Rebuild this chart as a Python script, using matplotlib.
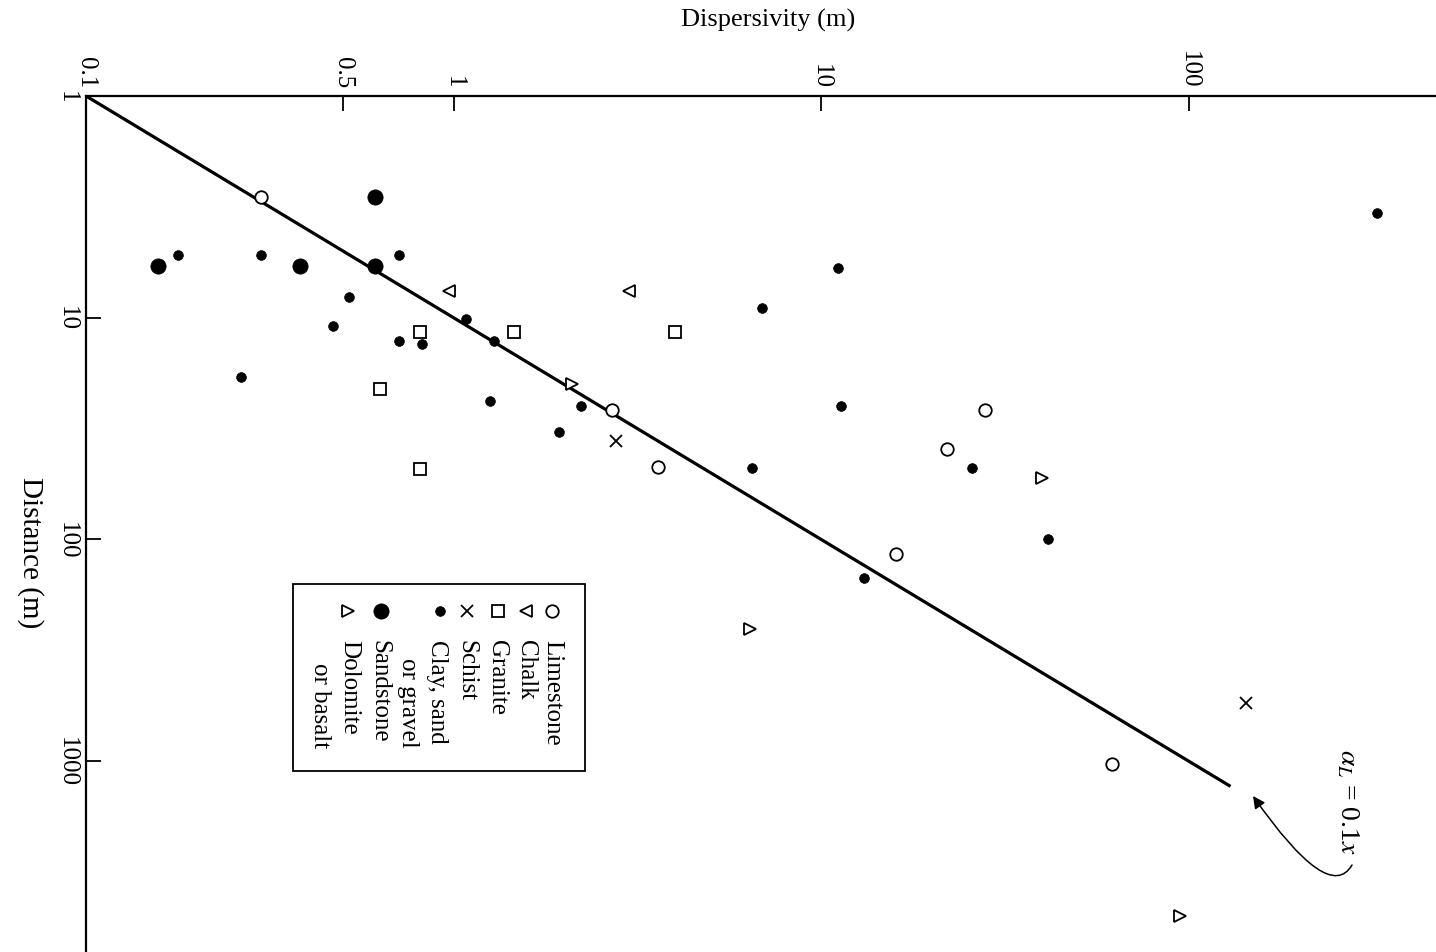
import matplotlib
matplotlib.use("Agg")
import matplotlib.pyplot as plt
from matplotlib.lines import Line2D
from matplotlib.patches import Rectangle

# ---------------- data (dispersivity in m, distance in m) ----------------
limestone_disp = [0.30, 2.7, 3.6, 28, 22, 16, 62]
limestone_dist = [2.85, 26, 47, 26, 39, 116, 1030]

chalk_disp = [0.97, 3.0]
chalk_dist = [7.6, 7.6]

granite_disp = [0.81, 1.46, 4.0, 0.63, 0.81]
granite_dist = [11.6, 11.6, 11.6, 21, 48]

schist_disp = [2.77, 143]
schist_dist = [36, 546]

clay_disp = [0.178, 0.30, 0.71, 0.52, 0.47, 0.71, 0.82, 1.08, 1.29, 0.264,
             1.26, 1.94, 2.22, 6.9, 11.1, 11.3, 6.5, 25.7, 41.4, 13.1, 325]
clay_dist = [5.2, 5.2, 5.2, 8.05, 10.9, 12.7, 13.1, 10.1, 12.8, 18.5,
             23.7, 32.7, 25.0, 9.0, 5.96, 25.0, 47.5, 47.5, 100, 149, 3.37]

sandstone_disp = [0.61, 0.157, 0.383, 0.61]
sandstone_dist = [2.85, 5.84, 5.84, 5.84]

dolomite_disp = [2.1, 40, 6.4, 95]
dolomite_dist = [20, 53, 253, 5000]

line_dist = [1, 1300]
line_ratio = 0.1

x_ticks = [0.1, 0.5, 1, 10, 100]
x_ticklabels = ["0.1", "0.5", "1", "10", "100"]
y_ticks = [1, 10, 100, 1000]
y_ticklabels = ["1", "10", "100", "1000"]

legend_labels = ["Limestone", "Chalk", "Granite", "Schist",
                 "Clay, sand\nor gravel", "Sandstone", "Dolomite\nor basalt"]

# ---------------- styling ----------------
plt.rcParams["font.family"] = ["Liberation Serif", "DejaVu Serif"]
plt.rcParams["mathtext.fontset"] = "stix"

W, H = 1436, 953
fig = plt.figure(figsize=(W / 100, H / 100), dpi=100)


def P(x, y):
    """pixel position (from top-left) -> figure fraction"""
    return (x / W, 1 - y / H)


ax = fig.add_axes([86 / W, 0, 1 - 86 / W, 1 - 97 / H])
ax.set_xscale("log")
ax.set_yscale("log")
ax.set_xlim(0.1, 471)
ax.set_ylim(7260, 1)

styles = {
    "Limestone": dict(marker="o", ms=9, mfc="white", mec="black", mew=1.3, ls="none"),
    "Chalk": dict(marker="<", ms=9, mfc="white", mec="black", mew=1.3, ls="none"),
    "Granite": dict(marker="s", ms=8, mfc="white", mec="black", mew=1.3, ls="none"),
    "Schist": dict(marker="x", ms=8.5, mfc="black", mec="black", mew=1.3, ls="none"),
    "Clay": dict(marker="o", ms=7, mfc="black", mec="black", mew=0.5, ls="none"),
    "Sandstone": dict(marker="o", ms=11, mfc="black", mec="black", mew=0.5, ls="none"),
    "Dolomite": dict(marker=">", ms=9, mfc="white", mec="black", mew=1.3, ls="none"),
}

# reference line alpha_L = 0.1 x
line_disp = [line_ratio * d for d in line_dist]
ax.plot(line_disp, line_dist, color="black", lw=2.3, zorder=2, solid_capstyle="butt")

ax.plot(limestone_disp, limestone_dist, zorder=3, **styles["Limestone"])
ax.plot(chalk_disp, chalk_dist, zorder=3, **styles["Chalk"])
ax.plot(granite_disp, granite_dist, zorder=3, **styles["Granite"])
ax.plot(schist_disp, schist_dist, zorder=3, **styles["Schist"])
ax.plot(clay_disp, clay_dist, zorder=3, **styles["Clay"])
ax.plot(sandstone_disp, sandstone_dist, zorder=3, **styles["Sandstone"])
ax.plot(dolomite_disp, dolomite_dist, zorder=3, **styles["Dolomite"])

# axes / spines
for s in ["right", "bottom"]:
    ax.spines[s].set_visible(False)
for s in ["top", "left"]:
    ax.spines[s].set_linewidth(1.6)

ax.minorticks_off()
ax.xaxis.tick_top()
ax.set_xticks(x_ticks)
ax.set_xticklabels(x_ticklabels, rotation=-90)
ax.set_yticks(y_ticks)
ax.set_yticklabels(y_ticklabels, rotation=-90, va="center")
ax.tick_params(axis="both", which="major", direction="in", length=11, width=1.3,
               labelsize=18, pad=6)
ax.tick_params(axis="x", top=True, bottom=False, labeltop=True, labelbottom=False)
ax.tick_params(which="minor", length=0)

# axis titles
fig.text(*P(768, 20), "Dispersivity (m)", fontsize=19, ha="center", va="center")
fig.text(*P(30, 553), "Distance (m)", fontsize=21, ha="center", va="center", rotation=-90)

# annotation alpha_L = 0.1x
fig.text(*P(1347, 802), r"$\alpha_L$ = 0.1$x$", fontsize=20, ha="center", va="center",
         rotation=-90)
ax.annotate("", xy=P(1253, 797), xycoords="figure fraction",
            xytext=P(1352, 866), textcoords="figure fraction",
            arrowprops=dict(arrowstyle="-|>",
                            connectionstyle="angle3,angleA=-120,angleB=125",
                            lw=1.1, color="black", mutation_scale=18,
                            shrinkA=0, shrinkB=0))

# legend (rotated, drawn by hand)
box_x0, box_y0, box_x1, box_y1 = 293, 585, 585, 772
bl = P(box_x0, box_y1)
tr = P(box_x1, box_y0)
fig.add_artist(Rectangle(bl, tr[0] - bl[0], tr[1] - bl[1], transform=fig.transFigure,
                         fill=False, lw=1.3, ec="black"))

leg_keys = ["Limestone", "Chalk", "Granite", "Schist", "Clay", "Sandstone", "Dolomite"]
marker_x = [552, 526, 498, 467, 440, 381, 348]
marker_y = 612
text_x = [552, 526, 497, 466, 437, 379, 349]
line_gap = 29
for key, lab, mx, tx in zip(leg_keys, legend_labels, marker_x, text_x):
    st = dict(styles[key])
    fig.add_artist(Line2D([mx / W], [1 - marker_y / H], transform=fig.transFigure, **st))
    lines = lab.split("\n")
    fig.text(*P(tx, 640), lines[0], fontsize=18, rotation=-90, rotation_mode="anchor",
             ha="left", va="center")
    if len(lines) > 1:
        fig.text(*P(tx - line_gap, 748), lines[1], fontsize=18, rotation=-90,
                 rotation_mode="anchor", ha="right", va="center")

fig.savefig("out.png", dpi=100, facecolor="white")
